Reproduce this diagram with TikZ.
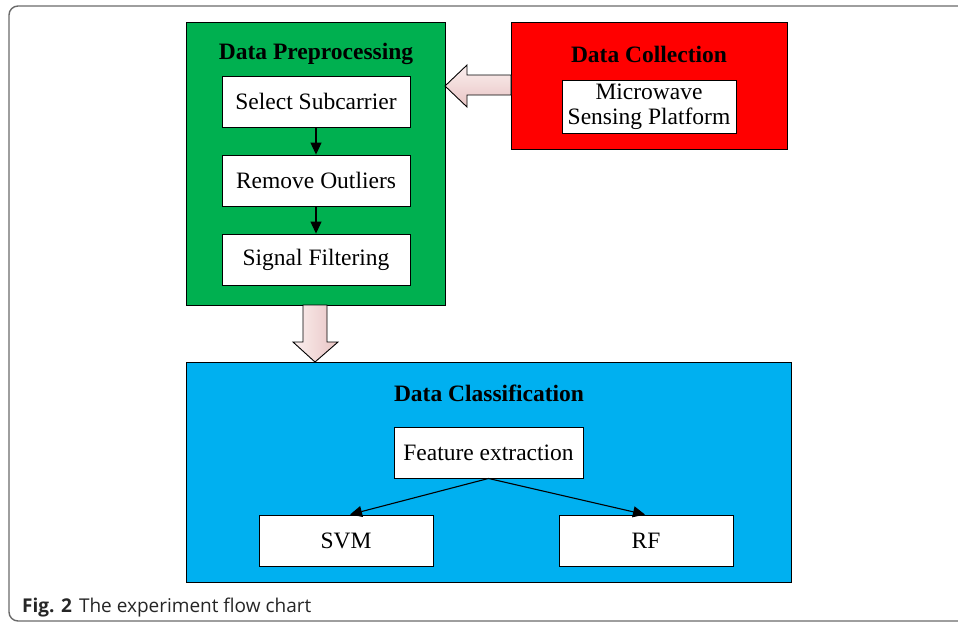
\documentclass[tikz,border=0pt]{standalone}
\usepackage{fontspec}
\setmainfont{Liberation Serif}
\newfontfamily\capfont{Open Sans}
\usetikzlibrary{arrows.meta}
\definecolor{gfill}{HTML}{00B050}
\definecolor{rfill}{HTML}{FF0000}
\definecolor{bfill}{HTML}{00B0F0}
\definecolor{pinkA}{HTML}{FBEFEF}
\definecolor{pinkB}{HTML}{E8C4C3}
\definecolor{framec}{HTML}{6A6A6A}
\tikzset{
  panel/.style={draw=black, line width=0.9pt},
  stepbox/.style={draw=black, fill=white, line width=0.9pt, minimum width=188pt, minimum height=51pt, inner sep=0pt, font=\fontsize{23.5}{26}\selectfont},
  ttl/.style={font=\fontsize{23.5}{26}\selectfont\bfseries, inner sep=0pt},
  conn/.style={-{Triangle[length=12pt,width=11pt]}, line width=1.1pt},
  bigarrow/.style={draw=black, line width=0.9pt},
}
\begin{document}
\begin{tikzpicture}[x=1pt,y=-1pt]
\useasboundingbox (0,0) rectangle (958,625);
% outer frame
\draw[framec, line width=1.4pt, rounded corners=9pt] (970,6) -- (9,6) -- (9,621) -- (970,621);
% panels
\draw[panel, fill=gfill] (186,22) rectangle (445,305);
\draw[panel, fill=rfill] (511,22) rectangle (787,149);
\draw[panel, fill=bfill] (186,362) rectangle (791,582);
\node[ttl] (tp) at (316,54) {Data Preprocessing};
\node[ttl] (tc) at (649,54) {Data Collection};
\node[ttl] (tcl) at (489,393) {Data Classification};
% inner boxes
\node[stepbox] (s1) at (316,101.5) {Select Subcarrier};
\node[stepbox] (s2) at (316,180.5) {Remove Outliers};
\node[stepbox] (s3) at (316,259.5) {Signal Filtering};
\node[stepbox, minimum width=174pt, minimum height=53pt, align=center, font=\fontsize{23.5}{25}\selectfont] (mw) at (649,106.5) {Microwave\\Sensing Platform};
\node[stepbox, minimum width=189pt] (fe) at (488.5,452.5) {Feature extraction};
\node[stepbox, minimum width=174pt] (svm) at (346,540.5) {SVM};
\node[stepbox, minimum width=174pt] (rf) at (646,540.5) {RF};
% connectors
\draw[conn] (s1.south) -- (s2.north);
\draw[conn] (s2.south) -- (s3.north);
\draw[conn] (fe.south) -- ([xshift=4pt]svm.north);
\draw[conn] (fe.south) -- ([xshift=-1pt]rf.north);
% big arrows
\shade[bigarrow, top color=pinkA, bottom color=pinkB]
  (511,75) -- (467,75) -- (467,65) -- (445,86) -- (467,107) -- (467,95) -- (511,95) -- cycle;
\shade[bigarrow, left color=pinkA, right color=pinkB]
  (303,305) -- (303,342) -- (293,342) -- (315,362) -- (338,342) -- (327,342) -- (327,305) -- cycle;
% caption
\node[anchor=base west, inner sep=0pt, font=\capfont\fontsize{19}{22}\selectfont, text=black!85] (cap) at (22,612) {\textbf{Fig. 2}\hspace{7pt}The experiment flow chart};
\end{tikzpicture}
\end{document}
